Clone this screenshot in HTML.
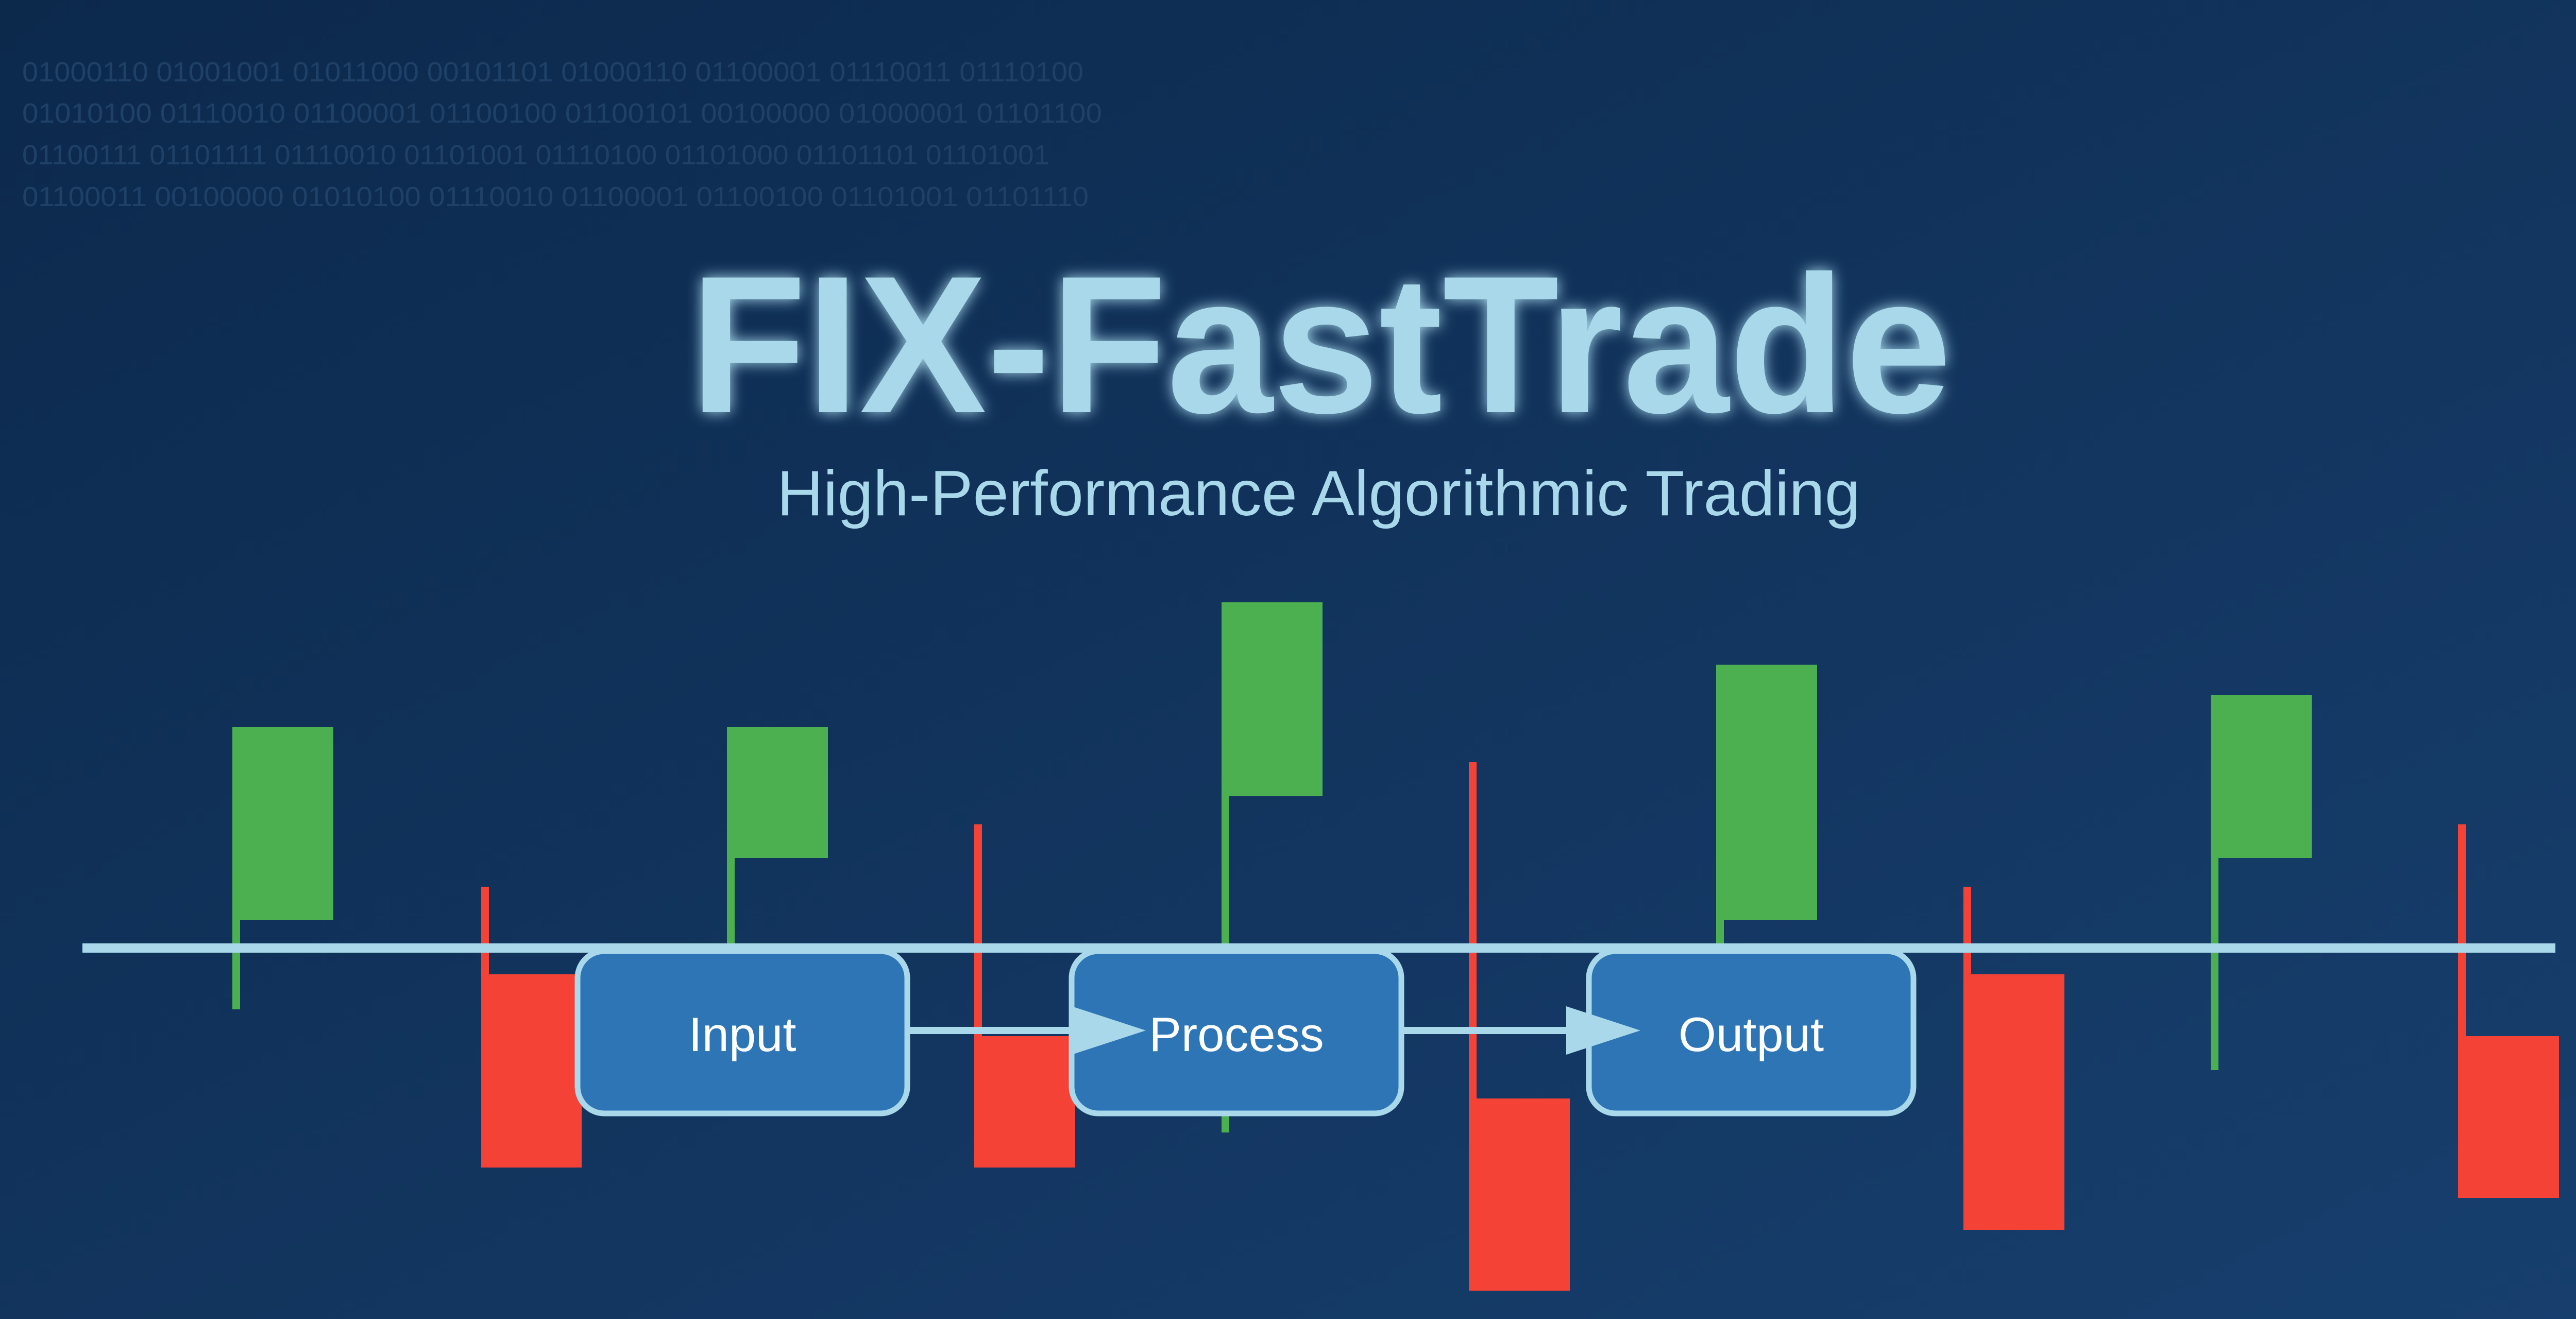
<!DOCTYPE html>
<html><head><meta charset="utf-8"><style>
html,body{margin:0;padding:0;width:5120px;height:2560px;overflow:hidden;background:#0f2d52}
svg{display:block}
</style></head><body>
<svg width="5120" height="2560" viewBox="0 0 5120 2560" xmlns="http://www.w3.org/2000/svg">
<defs>
<linearGradient id="bg" x1="0" y1="0" x2="1" y2="1">
<stop offset="0" stop-color="#0c294c"/><stop offset="1" stop-color="#173f6e"/>
</linearGradient>
<filter id="glow" x="-10%" y="-30%" width="120%" height="160%">
<feGaussianBlur stdDeviation="14" result="b"/>
<feMerge><feMergeNode in="b"/><feMergeNode in="SourceGraphic"/></feMerge>
</filter>
</defs>
<rect width="5120" height="2560" fill="url(#bg)"/>
<g font-family="Liberation Sans, sans-serif" font-size="54" fill="#1f4168">
<text x="43" y="158" textLength="2060" lengthAdjust="spacingAndGlyphs">01000110 01001001 01011000 00101101 01000110 01100001 01110011 01110100</text>
<text x="43" y="238" textLength="2096" lengthAdjust="spacingAndGlyphs">01010100 01110010 01100001 01100100 01100101 00100000 01000001 01101100</text>
<text x="43" y="319" textLength="1994" lengthAdjust="spacingAndGlyphs">01100111 01101111 01110010 01101001 01110100 01101000 01101101 01101001</text>
<text x="43" y="400" textLength="2070" lengthAdjust="spacingAndGlyphs">01100011 00100000 01010100 01110010 01100001 01100100 01101001 01101110</text>
</g>
<text x="1339" y="800" font-family="Liberation Sans, sans-serif" font-weight="bold" font-size="380" fill="#a8d8ea" filter="url(#glow)" textLength="2449" lengthAdjust="spacingAndGlyphs">FIX-FastTrade</text>
<text x="1508" y="1000" font-family="Liberation Sans, sans-serif" font-size="124" fill="#a8d8ea" textLength="2103" lengthAdjust="spacingAndGlyphs">High-Performance Algorithmic Trading</text>
<!-- candles -->
<g>
<rect x="451" y="1411" width="196" height="375" fill="#4caf50"/><rect x="451" y="1786" width="15" height="173" fill="#4caf50"/>
<rect x="934" y="1721" width="15" height="170" fill="#f44336"/><rect x="934" y="1891" width="195" height="375" fill="#f44336"/>
<rect x="1411" y="1411" width="196" height="254" fill="#4caf50"/><rect x="1411" y="1665" width="15" height="173" fill="#4caf50"/>
<rect x="1891" y="1600" width="15" height="411" fill="#f44336"/><rect x="1891" y="2011" width="196" height="255" fill="#f44336"/>
<rect x="2371" y="1169" width="196" height="376" fill="#4caf50"/><rect x="2371" y="1545" width="15" height="653" fill="#4caf50"/>
<rect x="2851" y="1479" width="15" height="653" fill="#f44336"/><rect x="2851" y="2132" width="196" height="373" fill="#f44336"/>
<rect x="3331" y="1290" width="196" height="496" fill="#4caf50"/><rect x="3331" y="1786" width="15" height="52" fill="#4caf50"/>
<rect x="3811" y="1721" width="15" height="170" fill="#f44336"/><rect x="3811" y="1891" width="196" height="496" fill="#f44336"/>
<rect x="4291" y="1349" width="196" height="316" fill="#4caf50"/><rect x="4291" y="1665" width="15" height="412" fill="#4caf50"/>
<rect x="4771" y="1600" width="15" height="411" fill="#f44336"/><rect x="4771" y="2011" width="196" height="314" fill="#f44336"/>
</g>
<rect x="160" y="1831" width="4800" height="18" fill="#a8d8ea"/>
<!-- connectors -->
<rect x="1760" y="1993" width="330" height="14" fill="#a8d8ea"/>
<rect x="2720" y="1993" width="330" height="14" fill="#a8d8ea"/>
<!-- boxes -->
<g fill="#2e75b6" stroke="#a8d8ea" stroke-width="11">
<rect x="1121" y="1846" width="640" height="315" rx="52"/>
<rect x="2080" y="1846" width="640" height="315" rx="52"/>
<rect x="3084" y="1846" width="630" height="315" rx="52"/>
</g>
<polygon points="2080,1953 2224,2000 2080,2047" fill="#a8d8ea"/>
<polygon points="3040,1953 3184,2000 3040,2047" fill="#a8d8ea"/>
<g font-family="Liberation Sans, sans-serif" font-size="94" fill="#ffffff" text-anchor="middle">
<text x="1441" y="2040">Input</text>
<text x="2400" y="2040">Process</text>
<text x="3399" y="2040">Output</text>
</g>
</svg>
</body></html>
